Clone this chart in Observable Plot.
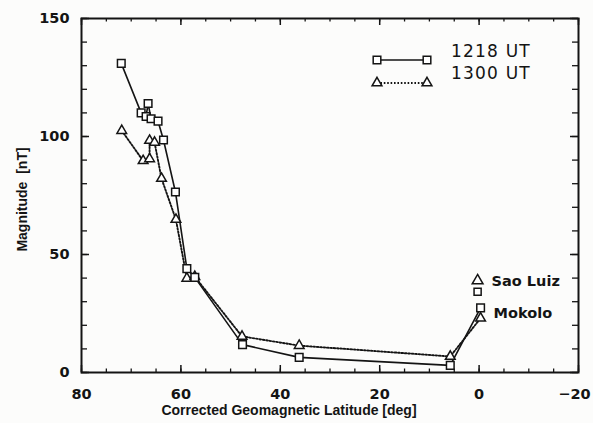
<!DOCTYPE html>
<html><head><meta charset="utf-8">
<script src="https://cdn.jsdelivr.net/npm/d3@7"></script>
<script src="https://cdn.jsdelivr.net/npm/@observablehq/plot@0.6"></script>
<style>
body{margin:0;background:#fcfcfb;}
#chart svg{display:block;background:#fcfcfb;}
</style></head><body><div id="chart"></div>
<script>
// 1218 UT (squares, solid line)
const lat1218 = [72.0, 68.0, 67.0, 66.6, 66.0, 64.6, 63.5, 61.1, 58.8, 57.2, 47.6, 36.2, 5.8, -0.3];
const mag1218 = [131, 110, 108.5, 114, 107.5, 106.5, 98.5, 76.5, 44, 40.3, 11.8, 6.4, 3.0, 27.4];
// 1300 UT (triangles, dotted line)
const lat1300 = [71.9, 67.6, 66.3, 66.3, 65.3, 63.9, 61.0, 58.8, 57.2, 47.7, 36.2, 5.8, -0.3];
const mag1300 = [102.5, 89.7, 90.5, 98.3, 97.5, 82.2, 64.8, 39.9, 40.6, 15.3, 11.4, 6.8, 23.0];
// Sao Luiz station (unconnected)
const saoLuizLat = 0.3;
const saoLuiz1218 = 34.2;
const saoLuiz1300 = 38.9;
const stationNames = ["Sao Luiz", "Mokolo"];
const seriesNames = ["1218 UT", "1300 UT"];

const xTickLabels = [80, 60, 40, 20, 0, -20];
const xMinorTicks = [80, 75, 70, 65, 60, 55, 50, 45, 40, 35, 30, 25, 20, 15, 10, 5, 0, -5, -10, -15, -20];
const yTickLabels = [0, 50, 100, 150];
const yMinorTicks = [0, 10, 20, 30, 40, 50, 60, 70, 80, 90, 100, 110, 120, 130, 140, 150];
const xLabel = "Corrected Geomagnetic Latitude [deg]";
const yLabel = "Magnitude  [nT]";

const s1218 = lat1218.map((x, i) => ({x, y: mag1218[i]}));
const s1300 = lat1300.map((x, i) => ({x, y: mag1300[i]}));
const sao = [{x: saoLuizLat, y: saoLuiz1218, sym: "square"}, {x: saoLuizLat, y: saoLuiz1300, sym: "triangle"}];

const W = 593, H = 423, mL = 81, mR = 15, mT = 18, mB = 51;
const pW = W - mL - mR, pH = H - mT - mB;
const ink = "#141414";
const font = "'Liberation Sans', Arial, sans-serif";
const tickFont = "'DejaVu Sans', sans-serif";
const lastX = xTickLabels[xTickLabels.length - 1];

const plot = Plot.plot({
  width: W, height: H,
  marginLeft: mL, marginRight: mR, marginTop: mT, marginBottom: mB,
  x: {domain: [80, -20]},
  y: {domain: [0, 150]},
  style: {fontFamily: font, fontWeight: "bold", fontSize: "14px", color: ink, background: "#fcfcfb"},
  marks: [
    // inward ticks
    Plot.tickX(xMinorTicks, {x: d => d, insetTop: pH - 3.5, stroke: ink, strokeWidth: 1.3}),
    Plot.tickX(xTickLabels, {x: d => d, insetTop: pH - 7, stroke: ink, strokeWidth: 1.5}),
    Plot.tickX(xMinorTicks, {x: d => d, insetBottom: pH - 3.5, stroke: ink, strokeWidth: 1.3}),
    Plot.tickX(xTickLabels, {x: d => d, insetBottom: pH - 7, stroke: ink, strokeWidth: 1.5}),
    Plot.tickY(yMinorTicks, {y: d => d, insetRight: pW - 6, stroke: ink, strokeWidth: 1.3}),
    Plot.tickY(yTickLabels, {y: d => d, insetRight: pW - 8, stroke: ink, strokeWidth: 1.5}),
    Plot.tickY(yMinorTicks, {y: d => d, insetLeft: pW - 6, stroke: ink, strokeWidth: 1.3}),
    Plot.tickY(yTickLabels, {y: d => d, insetLeft: pW - 8, stroke: ink, strokeWidth: 1.5}),
    Plot.frame({stroke: ink, strokeWidth: 2}),
    Plot.axisX({ticks: xTickLabels.filter(d => d !== lastX), tickSize: 0, tickPadding: 16, label: null, fontSize: 14.5, fontFamily: tickFont}),
    Plot.axisX({ticks: [lastX], tickSize: 0, tickPadding: 16, label: null, fontSize: 14.5, fontFamily: tickFont, dx: -4}),
    Plot.axisY({ticks: yTickLabels, tickSize: 0, tickPadding: 12, label: null, fontSize: 14.5, fontFamily: tickFont}),
    // data
    Plot.line(s1300, {x: "x", y: "y", stroke: ink, strokeWidth: 1.9, strokeDasharray: "1.6,1.8"}),
    Plot.line(s1218, {x: "x", y: "y", stroke: ink, strokeWidth: 1.6}),
    Plot.dot(s1300, {x: "x", y: "y", symbol: "triangle", r: 3.6, stroke: ink, strokeWidth: 1.5, fill: "white"}),
    Plot.dot(s1218, {x: "x", y: "y", symbol: "square", r: 4.3, stroke: ink, strokeWidth: 1.5, fill: "white"}),
    Plot.dot(sao, {x: "x", y: "y", symbol: "sym", r: 4.0, stroke: ink, strokeWidth: 1.5, fill: "white"}),
    // station labels
    Plot.text([stationNames[0]], {x: () => saoLuizLat, y: () => saoLuiz1300, dx: 14, dy: 1, textAnchor: "start", fontSize: 14.5, fontFamily: tickFont, fill: ink}),
    Plot.text([stationNames[1]], {x: () => lat1218[lat1218.length - 1], y: () => (mag1218[mag1218.length - 1] + mag1300[mag1300.length - 1]) / 2, dx: 13, dy: 0, textAnchor: "start", fontSize: 14.5, fontFamily: tickFont, fill: ink}),
    // axis labels
    Plot.text([xLabel], {frameAnchor: "bottom", textAnchor: "middle", dx: -41, dy: 42, fontSize: 14, fill: ink}),
    Plot.text([yLabel], {frameAnchor: "left", textAnchor: "middle", dx: -59, dy: 4, rotate: -90, fontSize: 14, fill: ink})
  ]
});

// legend inside the frame (top right)
const svg = d3.select(plot);
const lg = svg.append("g").attr("fill", "none").attr("stroke", ink).attr("stroke-width", 1.5);
const rows = [
  {y: 60, dash: null, sym: "square", textY: 51},
  {y: 83, dash: "1.6,1.8", sym: "triangle", textY: 73}
];
rows.forEach((r, i) => {
  lg.append("line").attr("x1", 377).attr("x2", 427).attr("y1", r.y).attr("y2", r.y)
    .attr("stroke-dasharray", r.dash).attr("stroke-width", r.dash ? 1.9 : 1.5);
  [377, 427].forEach(cx => {
    const p = d3.symbol(r.sym === "square" ? d3.symbolSquare : d3.symbolTriangle, r.sym === "square" ? 58 : 42)();
    lg.append("path").attr("d", p).attr("transform", `translate(${cx},${r.y})`).attr("fill", "white");
  });
  svg.append("text").attr("x", 451).attr("y", r.textY).attr("dy", "0.35em")
    .attr("text-anchor", "start")
    .attr("fill", ink).attr("font-family", "'DejaVu Sans', sans-serif").attr("font-weight", "normal")
    .attr("font-size", 17).attr("letter-spacing", 1.2).text(seriesNames[i]);
});

document.getElementById("chart").append(plot);
</script>
</body></html>
